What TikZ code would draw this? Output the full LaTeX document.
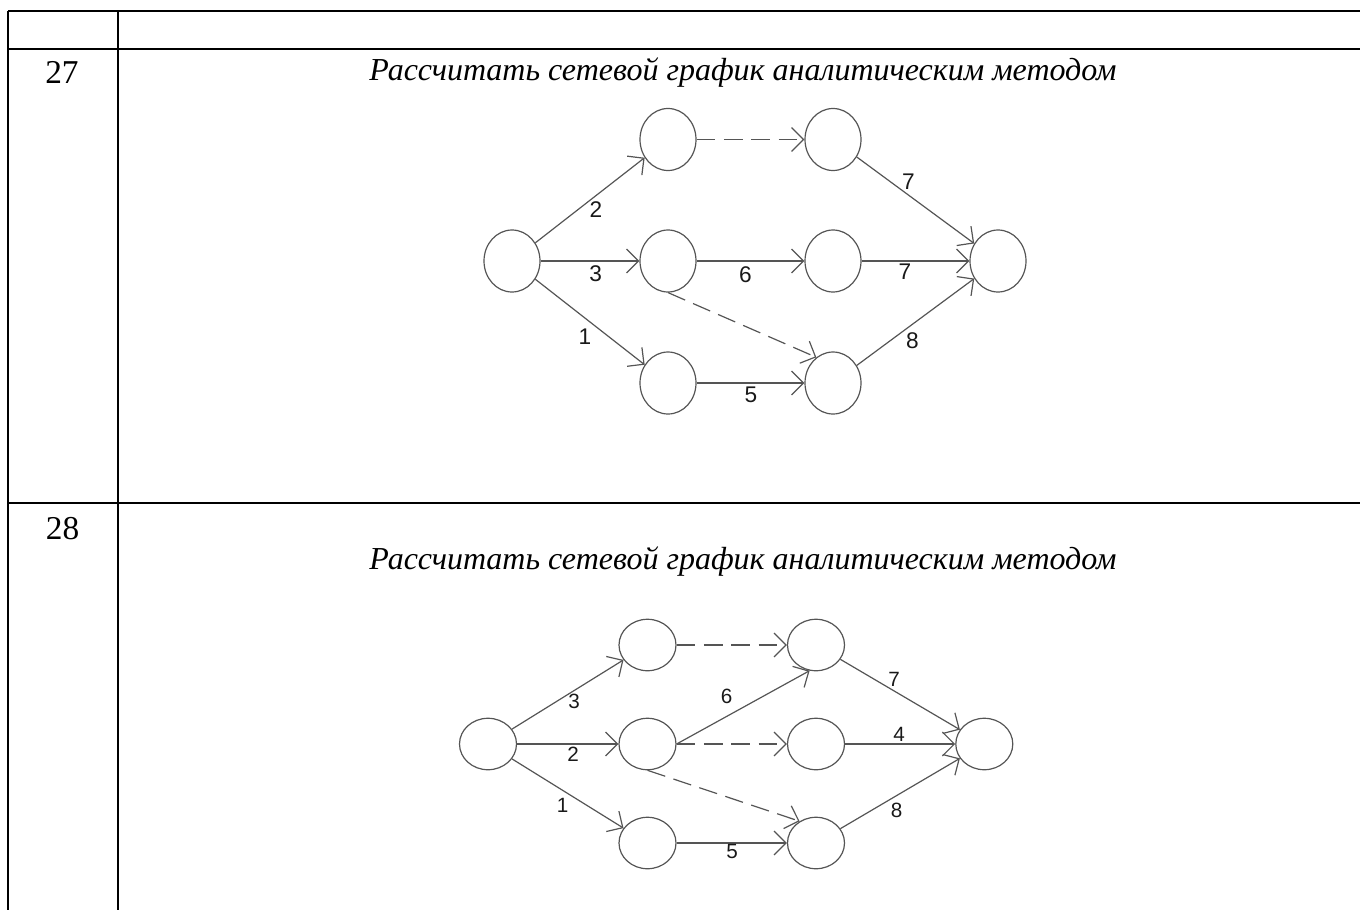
\documentclass[tikz,border=0pt]{standalone}
\usepackage{fontspec}
\setmainfont{Liberation Serif}
\newfontfamily\lblfont{Liberation Sans}
\usepackage{tikz}
\usetikzlibrary{
  shapes.geometric,
  arrows.meta
}
\definecolor{rulecolor}{RGB}{0, 0, 0}
\definecolor{edgecolor}{RGB}{85, 85, 85}
\definecolor{labelcolor}{RGB}{25, 25, 25}
\tikzset{
tablerule/.style={
  draw=rulecolor,
  line width=1.7pt
},
rownum/.style={
  font=\fontsize{25}{28}\selectfont,
  anchor=base,
  inner sep=0pt
},
tasktext/.style={
  font=\fontsize{24}{28}\selectfont\itshape,
  anchor=base,
  inner sep=0pt
},
eventbig/.style={
  ellipse,
  draw=edgecolor,
  line width=0.9pt,
  inner sep=0pt,
  minimum width=42pt,
  minimum height=46.5pt
},
eventsmall/.style={
  eventbig,
  minimum width=42.75pt,
  minimum height=38.6pt
},
worklabel/.style={
  font=\lblfont\fontsize{17}{20}\selectfont,
  text=labelcolor,
  inner sep=0pt
},
worklabelsmall/.style={
  worklabel,
  font=\lblfont\fontsize{15.5}{18}\selectfont
},
arrow/.style={
  -{Straight Barb[length=9pt, width=18pt]},
  line width=0.9pt,
  draw=edgecolor
},
dashedarrow/.style={
  arrow,
  dash pattern=on 14pt off 6.5pt
}
}

\begin{document}
\begin{tikzpicture}[x=0.75pt, y=-0.75pt]
  \useasboundingbox (0,0) rectangle (1360,910);

  % --- table ---
  \draw[tablerule] (8.3,11) -- (1360,11);
  \draw[tablerule] (8.3,49.3) -- (1360,49.3);
  \draw[tablerule] (8.3,503.3) -- (1360,503.3);
  \draw[tablerule] (8.3,11) -- (8.3,910);
  \draw[tablerule] (118.3,11) -- (118.3,910);

  \node[rownum] (num27) at (62,83.3) {27};
  \node[rownum] (num28) at (62.5,539) {28};
  \node[tasktext] (task27) at (743,80) {Рассчитать сетевой график аналитическим методом};
  \node[tasktext] (task28) at (743,569) {Рассчитать сетевой график аналитическим методом};

  % --- network 27 ---
  \node[eventbig] (a1) at (512,261) {};
  \node[eventbig] (b1) at (668,139.5) {};
  \node[eventbig] (c1) at (833,139.5) {};
  \node[eventbig] (d1) at (668,261) {};
  \node[eventbig] (e1) at (833,261) {};
  \node[eventbig] (f1) at (668,383) {};
  \node[eventbig] (g1) at (833,383) {};
  \node[eventbig] (h1) at (998,261) {};

  \draw[arrow] (a1) -- (b1);
  \draw[arrow] (a1) -- (d1);
  \draw[arrow] (a1) -- (f1);
  \draw[dashedarrow] (b1) -- (c1);
  \draw[arrow] (d1) -- (e1);
  \draw[dashedarrow] (d1.south) -- (g1.123);
  \draw[arrow] (f1) -- (g1);
  \draw[arrow] (c1) -- (h1);
  \draw[arrow] (e1) -- (h1);
  \draw[arrow] (g1) -- (h1);

  \node[worklabel] (w1ab) at (596,209.3) {2};
  \node[worklabel] (w1ad) at (595.7,273.3) {3};
  \node[worklabel] (w1af) at (585,336.7) {1};
  \node[worklabel] (w1de) at (745.3,274.3) {6};
  \node[worklabel] (w1fg) at (751,395) {5};
  \node[worklabel] (w1ch) at (908.3,181.7) {7};
  \node[worklabel] (w1eh) at (905,271.7) {7};
  \node[worklabel] (w1gh) at (912.3,340.7) {8};

  % --- network 28 ---
  \node[eventsmall] (a2) at (488,744) {};
  \node[eventsmall] (b2) at (647.5,645) {};
  \node[eventsmall] (c2) at (816,645) {};
  \node[eventsmall] (d2) at (647.5,744) {};
  \node[eventsmall] (e2) at (816,744) {};
  \node[eventsmall] (f2) at (647.5,843) {};
  \node[eventsmall] (g2) at (816,843) {};
  \node[eventsmall] (h2) at (984.3,744) {};

  \draw[arrow] (a2) -- (b2);
  \draw[arrow] (a2) -- (d2);
  \draw[arrow] (a2) -- (f2);
  \draw[dashedarrow] (b2) -- (c2);
  \draw[arrow] (d2.east) -- (c2.256);
  \draw[dashedarrow] (d2) -- (e2);
  \draw[dashedarrow] (d2.south) -- (g2.127);
  \draw[arrow] (f2) -- (g2);
  \draw[arrow] (c2) -- (h2);
  \draw[arrow] (e2) -- (h2);
  \draw[arrow] (g2) -- (h2);

  \node[worklabelsmall] (w2ab) at (574,701.7) {3};
  \node[worklabelsmall] (w2ad) at (573,754) {2};
  \node[worklabelsmall] (w2af) at (562.7,805) {1};
  \node[worklabelsmall] (w2dc) at (726.7,696.7) {6};
  \node[worklabelsmall] (w2fg) at (732,851.7) {5};
  \node[worklabelsmall] (w2ch) at (894,679) {7};
  \node[worklabelsmall] (w2eh) at (899,734) {4};
  \node[worklabelsmall] (w2gh) at (896.7,810) {8};
\end{tikzpicture}
\end{document}
